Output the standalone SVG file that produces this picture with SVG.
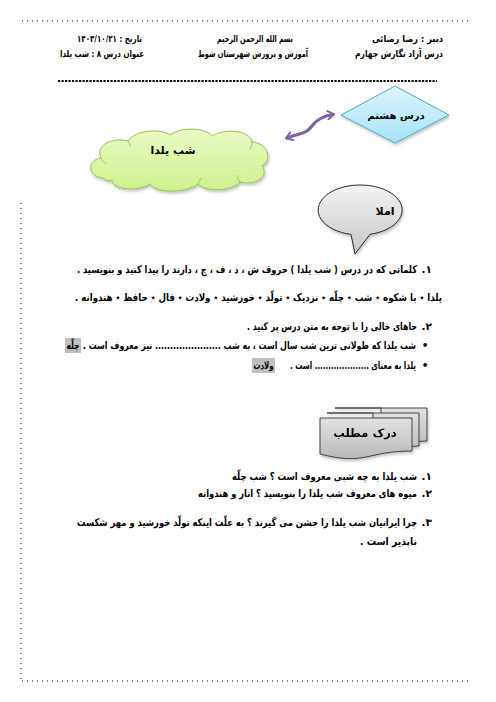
<svg xmlns="http://www.w3.org/2000/svg" width="496" height="702" viewBox="0 0 496 702">
<style>
text{font-family:"DejaVu Sans","Noto Sans",sans-serif;font-weight:bold;fill:#000;}
.h{font-size:9.5px;}
.b{font-size:10.5px;}
.r{text-anchor:end;}
.c{text-anchor:middle;}
.dot{stroke:#000;stroke-width:1;stroke-dasharray:1 4;fill:none;}
.hl{fill:#bfbfbf;}
</style>
<defs>
<linearGradient id="gBlue" x1="0" y1="0" x2="0" y2="1"><stop offset="0" stop-color="#dcf5fc"/><stop offset="1" stop-color="#a6e3f6"/></linearGradient>
<linearGradient id="gGreen" x1="0" y1="0" x2="0" y2="1"><stop offset="0" stop-color="#e9fbc4"/><stop offset="1" stop-color="#cdf08c"/></linearGradient>
<linearGradient id="gGray" x1="0" y1="0" x2="0" y2="1"><stop offset="0" stop-color="#f3f3f3"/><stop offset="1" stop-color="#c6c6c6"/></linearGradient>
<linearGradient id="gDoc" x1="0" y1="0" x2="0" y2="1"><stop offset="0" stop-color="#e2e2e2"/><stop offset="1" stop-color="#b9b9b9"/></linearGradient>
<filter id="sh" x="-20%" y="-20%" width="140%" height="150%"><feDropShadow dx="1" dy="2" stdDeviation="1.5" flood-color="#000" flood-opacity="0.25"/></filter>
<marker id="ah" viewBox="0 0 10 10" refX="6" refY="5" markerWidth="3.2" markerHeight="3.2" orient="auto-start-reverse" markerUnits="strokeWidth">
<polyline points="1,1 7,5 1,9" fill="none" stroke="#8064a2" stroke-width="2" stroke-linecap="round" stroke-linejoin="round"/>
</marker>
</defs>

<!-- page border dots -->
<line class="dot" x1="22" y1="21" x2="470" y2="21"/>
<line class="dot" x1="21" y1="203" x2="21" y2="681"/>
<line class="dot" x1="22" y1="681" x2="472" y2="681"/>

<!-- header -->
<g id="header">
<text class="h r" x="443" y="41.5" textLength="71" lengthAdjust="spacingAndGlyphs">&#x202B;دبیر : رضا رضائی&#x202C;</text>
<text class="h r" x="443" y="57" textLength="88" lengthAdjust="spacingAndGlyphs">&#x202B;درس آزاد نگارش چهارم&#x202C;</text>
<text class="h c" x="255" y="41.5" textLength="76" lengthAdjust="spacingAndGlyphs">&#x202B;بسم الله الرحمن الرحیم&#x202C;</text>
<text class="h c" x="253" y="57" textLength="110" lengthAdjust="spacingAndGlyphs">&#x202B;آموزش و پرورش شهرستان شوط&#x202C;</text>
<text class="h r" x="142" y="41.5" textLength="65" lengthAdjust="spacingAndGlyphs">&#x202B;تاریخ : ۱۴۰۳/۱۰/۲۱&#x202C;</text>
<text class="h r" x="144" y="57" textLength="84" lengthAdjust="spacingAndGlyphs">&#x202B;عنوان درس ۸ : شب یلدا&#x202C;</text>
<line x1="58" y1="81" x2="437" y2="81" stroke="#000" stroke-width="2.2" stroke-dasharray="2.2 1.3"/>
</g>

<!-- connectors -->
<g id="connectors">
<path d="M 287,138 C 300,133 306,134 311,127 C 316,120 322,116 333,114.5" fill="none" stroke="#8064a2" stroke-width="3.2" stroke-linecap="round" marker-start="url(#ah)" marker-end="url(#ah)"/>
</g>

<!-- diamond -->
<g id="node-dars-hashtom">
<polygon points="395,86 449,115 395,143 341,115" fill="url(#gBlue)" stroke="#4bacc6" stroke-width="1" filter="url(#sh)"/>
<text class="c" x="396" y="118.5" style="font-size:10px">درس هشتم</text>
</g>

<!-- cloud -->
<g id="node-shab-yalda">
<path d="M 103,178 C 88,177 86,160 101,158 C 95,145 112,137 128,141 C 136,130 160,128 170,135 C 180,127 205,127 212,136 C 225,128 250,130 252,142 C 268,143 273,160 262,166 C 270,177 255,186 240,182 C 232,192 205,192 198,184 C 185,194 155,193 150,184 C 138,192 112,190 112,180 C 108,182 105,180 103,178 Z" fill="url(#gGreen)" stroke="#9bbb59" stroke-width="1" filter="url(#sh)"/>
<path d="M 101,158 C 102,161 104,163 107,164 M 128,141 C 129,143 130,145 131,147 M 252,142 C 252,145 251,147 250,149 M 240,182 C 238,179 237,177 237,175 M 198,184 C 199,182 200,180 201,178" fill="none" stroke="#9bbb59" stroke-width="0.8"/>
<text class="c" x="173" y="154" style="font-size:11px">شب یلدا</text>
</g>

<!-- speech bubble -->
<g id="node-imla">
<path d="M 351,234.4 A 42,25 0 1 1 370,234.3 L 355,254 Z" fill="url(#gGray)" stroke="#2b2b2b" stroke-width="1" filter="url(#sh)"/>
<text class="c" x="385" y="215" style="font-size:11px">املا</text>
</g>

<!-- section 1 -->
<g id="sec1">
<text class="b r" x="432" y="273">&#x202B;۱.&#x202C;</text>
<text class="b r" x="417" y="273" textLength="340" lengthAdjust="spacingAndGlyphs">&#x202B;کلماتی که در درس ( شب یلدا ) حروف ش ، د ، ف ، چ ، دارند را پیدا کنید و بنویسید .&#x202C;</text>
<text class="b r" x="442" y="301" textLength="367" lengthAdjust="spacingAndGlyphs">&#x202B;یلدا ٭ با شکوه ٭ شب ٭ چلّه ٭ نزدیک ٭ تولّد ٭ خورشید ٭ ولادت ٭ فال ٭ حافظ ٭ هندوانه .&#x202C;</text>
</g>

<!-- section 2 -->
<g id="sec2">
<text class="b r" x="432" y="330">&#x202B;۲.&#x202C;</text>
<text class="b r" x="417" y="330" textLength="170" lengthAdjust="spacingAndGlyphs">&#x202B;جاهای خالی را با توجه به متن درس پر کنید .&#x202C;</text>
<text class="b c" x="425" y="349">•</text>
<text class="b r" x="416" y="349" textLength="333" lengthAdjust="spacingAndGlyphs">&#x202B;شب یلدا که طولانی ترین شب سال است ، به شب ...................... نیز معروف است .&#x202C;</text>
<rect class="hl" x="65" y="338" width="16" height="15"/>
<text class="b c" x="73" y="349" textLength="13" lengthAdjust="spacingAndGlyphs">چلّه</text>
<text class="b c" x="425" y="369">•</text>
<text class="b r" x="416" y="369" textLength="126" lengthAdjust="spacingAndGlyphs">&#x202B;یلدا به معنای .................... است .&#x202C;</text>
<rect class="hl" x="252" y="358" width="23" height="15"/>
<text class="b c" x="263.5" y="369" textLength="20" lengthAdjust="spacingAndGlyphs">ولادت</text>
</g>

<!-- multi document -->
<g id="node-dark-matlab" filter="url(#sh)">
<path d="M 335,408 H 427 V 441 C 404,441 404,451 381,446 V 408 Z" fill="url(#gDoc)" stroke="#333" stroke-width="0.9"/>
<path d="M 327,413 H 419 V 446 C 396,446 396,456 373,451 V 413 Z" fill="url(#gDoc)" stroke="#333" stroke-width="0.9"/>
<path d="M 320,418 H 412 V 451 C 366,451 366,466 320,454 Z" fill="url(#gDoc)" stroke="#333" stroke-width="0.9"/>
<text class="c" x="365" y="437" style="font-size:11.5px">درک مطلب</text>
</g>

<!-- section 3 -->
<g id="sec3">
<text class="b r" x="432" y="480">&#x202B;۱.&#x202C;</text>
<text class="b r" x="417" y="480" textLength="185" lengthAdjust="spacingAndGlyphs">&#x202B;شب یلدا به چه شبی معروف است ؟ شب چلّه&#x202C;</text>
<text class="b r" x="432" y="497">&#x202B;۲.&#x202C;</text>
<text class="b r" x="417" y="497" textLength="219" lengthAdjust="spacingAndGlyphs">&#x202B;میوه های معروف شب یلدا را بنویسید ؟ انار و هندوانه&#x202C;</text>
<text class="b r" x="432" y="526">&#x202B;۳.&#x202C;</text>
<text class="b r" x="417" y="526" textLength="340" lengthAdjust="spacingAndGlyphs">&#x202B;چرا ایرانیان شب یلدا را جشن می گیرند ؟ به علّت اینکه تولّد خورشید و مهر شکست&#x202C;</text>
<text class="b r" x="417" y="545" textLength="57" lengthAdjust="spacingAndGlyphs">&#x202B;ناپذیر است .&#x202C;</text>
</g>
</svg>
